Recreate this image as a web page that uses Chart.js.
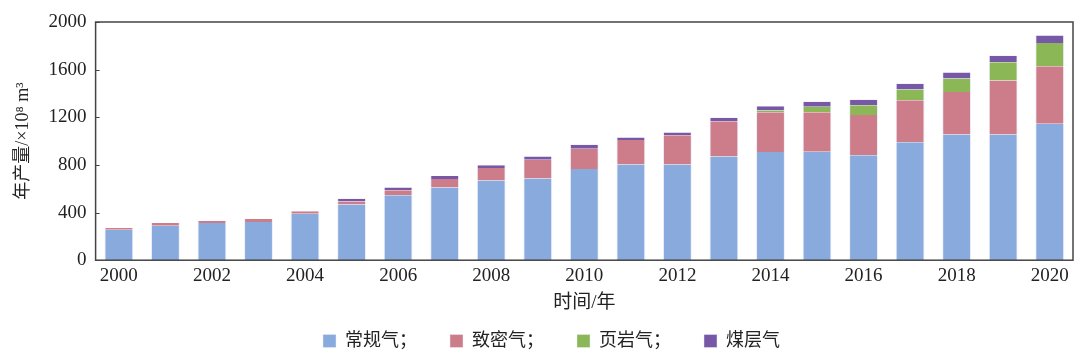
<!DOCTYPE html>
<html>
<head>
<meta charset="utf-8">
<script src="https://cdn.jsdelivr.net/npm/chart.js@4.4.0/dist/chart.umd.min.js"></script>
<style>
  html, body { margin: 0; padding: 0; background: #fff; }
  #wrap { width: 1080px; height: 362px; }
</style>
</head>
<body>
<div id="wrap"><canvas id="myChart" width="1080" height="362"></canvas></div>
<script>
const years = ['2000','2001','2002','2003','2004','2005','2006','2007','2008','2009','2010',
               '2011','2012','2013','2014','2015','2016','2017','2018','2019','2020'];
const conventional = [255, 289, 312, 321, 389, 468, 545, 610, 670, 687, 766, 803, 803, 871, 908, 911, 882, 990, 1055, 1055, 1146];
const tight        = [15, 23, 20, 25, 23, 25, 42, 71, 104, 156, 170, 207, 247, 295, 334, 331, 338, 352, 358, 454, 483];
const shale        = [0, 0, 0, 0, 0, 0, 0, 0, 0, 0, 0, 0, 0, 3, 15, 46, 82, 91, 113, 153, 195];
const coalbed      = [0, 0, 0, 0, 0, 22, 23, 25, 23, 28, 34, 20, 22, 28, 36, 42, 46, 48, 51, 54, 62];
const yTicks = [0, 400, 800, 1200, 1600, 2000];

const serif = "'Liberation Serif', 'Times New Roman', 'Noto Sans CJK SC', serif";
const cjk = "'Liberation Serif', 'Noto Sans CJK SC', serif";

// frame round the plot area plus small inward ticks on y
const frame = {
    id: 'frame',
    afterLayout(chart) {
        // nudge the legend row a little to the right, as in the original
        chart.legend.left += 9;
        chart.legend.right += 9;
    },
    afterDraw(chart) {
        const { ctx, chartArea: a, scales } = chart;
        ctx.save();
        ctx.strokeStyle = '#444';
        ctx.lineWidth = 1.5;
        ctx.strokeRect(a.left, a.top, a.right - a.left, a.bottom - a.top);
        ctx.lineWidth = 1;
        yTicks.forEach(v => {
            const y = Math.round(scales.y.getPixelForValue(v)) + 0.5;
            ctx.beginPath();
            ctx.moveTo(a.left, y);
            ctx.lineTo(a.left + 4, y);
            ctx.stroke();
        });
        ctx.restore();
    }
};

const bar = (label, data, color) => ({
    label: label,
    data: data,
    backgroundColor: color,
    borderColor: 'rgba(235,235,250,0.9)',
    borderWidth: { left: 1, right: 1, top: 0, bottom: 0 },
    borderSkipped: false,
    categoryPercentage: 1,
    barPercentage: 0.62
});

const ctx = document.getElementById('myChart').getContext('2d');
const myChart = new Chart(ctx, {
    type: 'bar',
    data: {
        labels: years,
        datasets: [
            bar('常规气；', conventional, '#88aadd'),
            bar('致密气；', tight, '#cc7d89'),
            bar('页岩气；', shale, '#8cb757'),
            bar('煤层气', coalbed, '#7658a6')
        ]
    },
    options: {
        responsive: false,
        animation: false,
        layout: { padding: { left: 12, right: 7, top: 22, bottom: 2 } },
        plugins: {
            legend: {
                position: 'bottom',
                labels: {
                    boxWidth: 13,
                    boxHeight: 13,
                    padding: 15,
                    color: '#222',
                    font: { family: cjk, size: 18 },
                    generateLabels: chart => Chart.defaults.plugins.legend.labels.generateLabels(chart)
                        .map((l, i) => Object.assign(l, { text: i < 3 ? l.text + '\u3000' : l.text }))
                }
            },
            tooltip: { enabled: false }
        },
        scales: {
            x: {
                stacked: true,
                grid: { display: false, drawTicks: false },
                border: { display: false },
                ticks: {
                    autoSkip: false,
                    maxRotation: 0,
                    padding: 6,
                    color: '#222',
                    font: { family: serif, size: 19, lineHeight: 1 },
                    callback: function (v, i) { return i % 2 === 0 ? years[i] : ''; }
                },
                title: {
                    display: true,
                    text: '时间/年',
                    color: '#222',
                    font: { family: cjk, size: 19 },
                    padding: { top: 0, bottom: 3 }
                }
            },
            y: {
                stacked: true,
                min: 0,
                max: 2000,
                afterBuildTicks: axis => { axis.ticks = yTicks.map(v => ({ value: v })); },
                grid: { display: false, drawTicks: false },
                border: { display: false },
                ticks: {
                    padding: 9,
                    color: '#222',
                    font: { family: serif, size: 19 },
                    callback: v => String(v)
                },
                title: {
                    display: true,
                    text: '年产量/×10⁸ m³',
                    color: '#222',
                    font: { family: cjk, size: 18 },
                    padding: { top: 0, bottom: 6 }
                }
            }
        }
    },
    plugins: [frame]
});
</script>
</body>
</html>
